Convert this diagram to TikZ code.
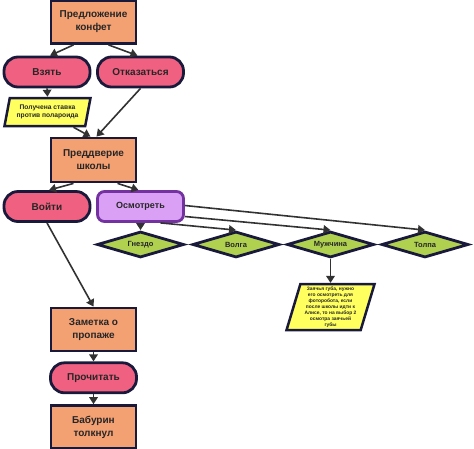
\documentclass[tikz,border=0pt]{standalone}
\usepackage{fontspec}
\setmainfont{Liberation Sans}
\usetikzlibrary{arrows.meta,positioning,shapes.geometric}
\definecolor{edgeline}{RGB}{25,25,60}
\definecolor{boxfill}{RGB}{243,160,115}
\definecolor{pillfill}{RGB}{240,96,128}
\definecolor{notefill}{RGB}{255,255,96}
\definecolor{lookfill}{RGB}{218,160,245}
\definecolor{lookline}{RGB}{115,50,160}
\definecolor{placefill}{RGB}{176,208,80}
\definecolor{arrowline}{RGB}{50,50,50}

\tikzset{
  scenebox/.style={draw=edgeline,line width=2.8pt,fill=boxfill,minimum width=85pt,minimum height=43pt,align=center,font=\bfseries\fontsize{10}{13}\selectfont,text=black!85},
  choice/.style={draw=edgeline,line width=2.8pt,fill=pillfill,rounded corners=14pt,minimum width=86pt,minimum height=30pt,font=\bfseries\fontsize{10}{12}\selectfont,text=black!85},
  notebox/.style={trapezium,trapezium left angle=72,trapezium right angle=108,trapezium stretches body,draw=edgeline,line width=2.5pt,fill=notefill,align=center,inner sep=1pt,text=black!85},
  place/.style={diamond,aspect=3.3,draw=edgeline,line width=2.8pt,fill=placefill,minimum width=87pt,minimum height=26pt,inner sep=0pt,font=\bfseries\fontsize{7.5}{9}\selectfont,text=black!85},
  go/.style={-{Triangle[length=7pt,width=8.5pt]},line width=1.6pt,draw=arrowline}
}

\begin{document}
\begin{tikzpicture}[x=1pt,y=-1pt]
\useasboundingbox (0,0) rectangle (474,448);
\node[scenebox] (offer) at (93.5,22) {Предложение\\конфет};
\node[choice] (take) at (47,72) {Взять};
\node[choice] (refuse) at (140.5,72) {Отказаться};
\node[notebox,minimum width=86pt,minimum height=28pt,font=\bfseries\fontsize{6.7}{8.3}\selectfont] (bet) at (47.5,112) {Получена ставка\\против полароида};
\node[scenebox,minimum height=44pt] (hall) at (93.5,160) {Преддверие\\школы};
\node[choice] (enter) at (47,206.5) {Войти};
\node[choice,fill=lookfill,draw=lookline,rounded corners=7pt,font=\bfseries\fontsize{9}{11}\selectfont] (look) at (140.5,206.5) {Осмотреть};
\node[place] (nest) at (140.5,244.5) {Гнездо};
\node[place] (volga) at (236,244.5) {Волга};
\node[place] (man) at (330.5,244.5) {Мужчина};
\node[place] (crowd) at (425,244.5) {Толпа};
\node[notebox,minimum width=88pt,minimum height=46pt,font=\bfseries\fontsize{4.9}{6}\selectfont,below=24pt of man] (lip) {Заячья губа, нужно\\его осмотреть для\\фоторобота, если\\после школы идти к\\Алисе, то на выбор 2\\осмотра заячьей\\губы};
\node[scenebox] (clue) at (93.5,329.5) {Заметка о\\пропаже};
\node[choice,below=9pt of clue] (read) {Прочитать};
\node[scenebox,below=10pt of read] (push) {Бабурин\\толкнул};
\coordinate (offleft) at (58,455);
\coordinate (offright) at (130,455);

\draw[go] ([xshift=-20pt]offer.south)--([xshift=3pt]take.north);
\draw[go] ([xshift=15pt]offer.south)--([xshift=-3pt]refuse.north);
\draw[go] (take.south)--(bet.north);
\draw[go] ([xshift=26pt]bet.south)--([xshift=-3pt]hall.north);
\draw[go] (refuse.south)--([xshift=3pt]hall.north);
\draw[go] ([xshift=-20pt]hall.south)--([xshift=2pt]enter.north);
\draw[go] ([xshift=24pt]hall.south)--([xshift=-2pt]look.north);
\draw[go] (enter.south)--(clue.north);
\draw[go] (look.south)--(nest.north);
\draw[go] ([xshift=20pt]look.south)--(volga.north);
\draw[go] ([yshift=-10pt]look.east)--(man.north);
\draw[go] ([yshift=1pt]look.east)--(crowd.north);
\draw[go] (man.south)--(lip.north);
\draw[go] (clue.south)--(read.north);
\draw[go] (read.south)--(push.north);
\draw[line width=1.6pt,draw=arrowline] ([xshift=-28pt]push.south)--(offleft);
\draw[line width=1.6pt,draw=arrowline] ([xshift=30pt]push.south)--(offright);
\end{tikzpicture}
\end{document}
